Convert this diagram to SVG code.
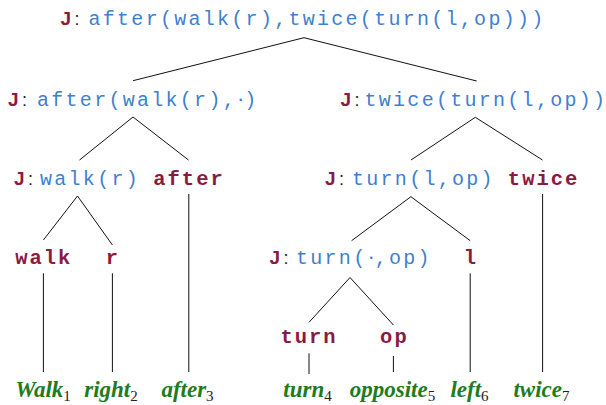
<svg xmlns="http://www.w3.org/2000/svg" width="606" height="405" viewBox="0 0 606 405">
<style>
.J{font-family:"Liberation Sans",Arial,sans-serif;font-weight:bold;font-size:19px;fill:#8B1A40}
.c{font-family:"Liberation Sans",Arial,sans-serif;font-size:18px;fill:#222}
.m{font-family:"Liberation Mono","Courier New",monospace;font-size:20px;letter-spacing:2.28px;fill:#3F7FD0}
.d{font-family:"Liberation Sans",Arial,sans-serif;font-size:22px;fill:#3F7FD0}
.b{font-family:"Liberation Mono","Courier New",monospace;font-weight:bold;font-size:20.5px;letter-spacing:2px;fill:#8B1A40}
.g{font-family:"Liberation Serif","Times New Roman",serif;font-weight:bold;font-style:italic;font-size:23px;fill:#1E7B1E}
.s{font-family:"Liberation Serif","Times New Roman",serif;font-size:15px;fill:#222}
.e{stroke:#111;stroke-width:1;fill:none}
</style>
<g id="connectors" class="e">
<path d="M304,37.7 L133,80.7 M304,37.7 L476.7,81"/>
<path d="M133,117 L79.5,160 M133,117 L188.5,160"/>
<path d="M475.3,117.3 L411,160 M475.3,117.3 L542.5,160"/>
<path d="M77.5,196 L43.4,240 M77.5,196 L112.4,245"/>
<path d="M188.8,194 V372"/>
<path d="M410.9,196.7 L351.6,240.7 M410.9,196.7 L470.2,240.7"/>
<path d="M542.6,194 V372"/>
<path d="M43.4,273.3 V372 M112.4,273.3 V372 M470.2,273.3 V372"/>
<path d="M350,277.5 L309,322.3 M350,277.5 L393.4,325"/>
<path d="M309,353.3 V374 M393.4,356 V372"/>
</g>
<g id="root"><text y="25"><tspan class="J" x="60.5">J</tspan><tspan class="c" x="74.5">:</tspan><tspan class="m" x="88.5">after(walk(r),twice(turn(l,op)))</tspan></text></g>
<g id="n-after-walk"><text y="105.5"><tspan class="J" x="8">J</tspan><tspan class="c" x="22">:</tspan><tspan class="m" x="37">after(walk(r),</tspan><tspan class="d">·</tspan><tspan class="m">)</tspan></text></g>
<g id="n-twice-turn"><text y="105.5"><tspan class="J" x="340.5">J</tspan><tspan class="c" x="354.5">:</tspan><tspan class="m" x="364.5">twice(turn(l,op))</tspan></text></g>
<g id="n-walk-r"><text y="184.5"><tspan class="J" x="14">J</tspan><tspan class="c" x="28">:</tspan><tspan class="m" x="40">walk(r)</tspan></text></g>
<g id="n-after"><text class="b" x="189" y="184.5" text-anchor="middle">after</text></g>
<g id="n-turn-l-op"><text y="184.5"><tspan class="J" x="325">J</tspan><tspan class="c" x="339">:</tspan><tspan class="m" x="352">turn(l,op)</tspan></text></g>
<g id="n-twice"><text class="b" x="543.6" y="184.5" text-anchor="middle">twice</text></g>
<g id="n-walk"><text class="b" x="43.8" y="263.5" text-anchor="middle">walk</text></g>
<g id="n-r"><text class="b" x="112.8" y="263.5" text-anchor="middle">r</text></g>
<g id="n-turn-op"><text y="263.5"><tspan class="J" x="269.5">J</tspan><tspan class="c" x="283.5">:</tspan><tspan class="m" x="296">turn(</tspan><tspan class="d">·</tspan><tspan class="m">,op)</tspan></text></g>
<g id="n-l"><text class="b" x="471" y="263.5" text-anchor="middle">l</text></g>
<g id="n-turn"><text class="b" x="309" y="343.3" text-anchor="middle">turn</text></g>
<g id="n-op"><text class="b" x="394.4" y="343.3" text-anchor="middle">op</text></g>
<g id="w1"><text x="43" y="396.5" text-anchor="middle"><tspan class="g">Walk</tspan><tspan class="s" dy="4">1</tspan></text></g>
<g id="w2"><text x="111" y="396.5" text-anchor="middle"><tspan class="g">right</tspan><tspan class="s" dy="4">2</tspan></text></g>
<g id="w3"><text x="187.5" y="396.5" text-anchor="middle"><tspan class="g">after</tspan><tspan class="s" dy="4">3</tspan></text></g>
<g id="w4"><text x="307.5" y="396.5" text-anchor="middle"><tspan class="g">turn</tspan><tspan class="s" dy="4">4</tspan></text></g>
<g id="w5"><text x="392.5" y="396.5" text-anchor="middle"><tspan class="g">opposite</tspan><tspan class="s" dy="4">5</tspan></text></g>
<g id="w6"><text x="469.5" y="396.5" text-anchor="middle"><tspan class="g">left</tspan><tspan class="s" dy="4">6</tspan></text></g>
<g id="w7"><text x="541.5" y="396.5" text-anchor="middle"><tspan class="g">twice</tspan><tspan class="s" dy="4">7</tspan></text></g>
</svg>
